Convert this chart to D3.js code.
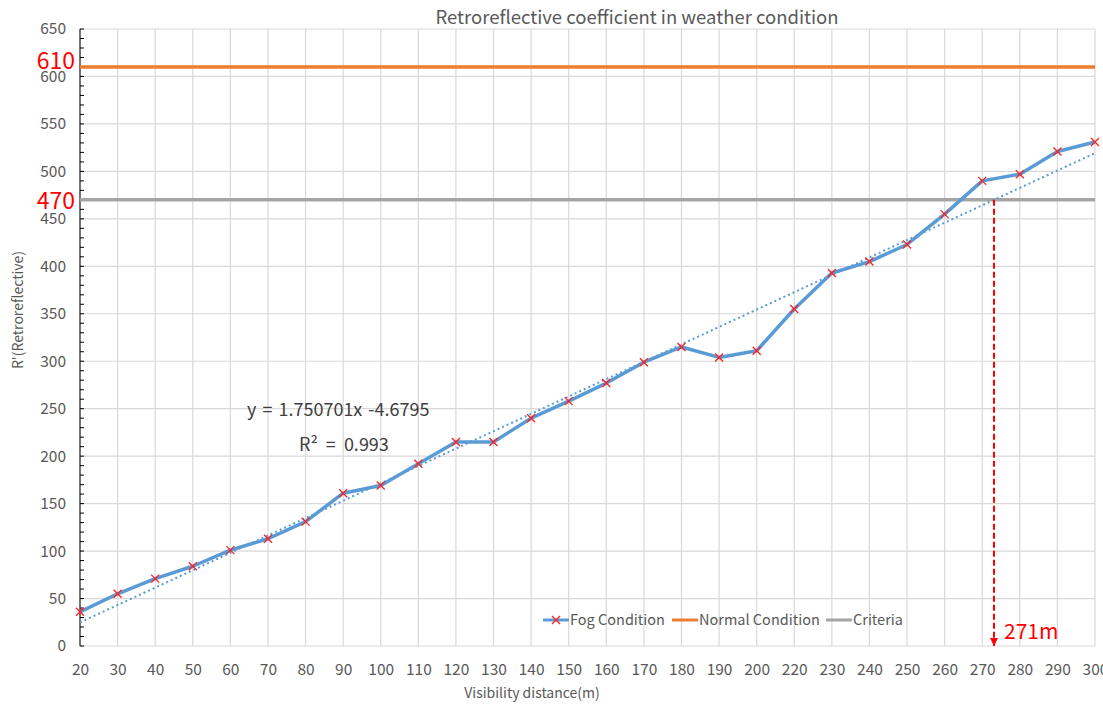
<!DOCTYPE html>
<html><head><meta charset="utf-8">
<script src="https://cdn.jsdelivr.net/npm/d3@7"></script>
<style>body{margin:0;background:#fff}svg{display:block}text{font-family:"Noto Sans CJK KR","Noto Sans",sans-serif}</style>
</head><body><svg id="c" width="1103" height="707"></svg>
<script>
const categories = [20,30,40,50,60,70,80,90,100,110,120,130,140,150,160,170,180,190,200,220,230,240,250,260,270,280,290,300];
const fogValues = [36,55,71,84,101,113,131,161,169,192,215,215,240,258,277,299,315,304,311,355,393,405,423,455,490,497,521,531];
const normalValue = 610;
const criteriaValue = 470;
const yTicks = [0,50,100,150,200,250,300,350,400,450,500,550,600,650];
const seriesNames = ["Fog Condition","Normal Condition","Criteria"];
const equationText = "y = 1.750701x -4.6795";
const r2Text = "R² = 0.993";
const crossLabel = "271m";

const svg = d3.select("#c");
const m = {l:80, r:1095, t:29, b:646};
const x = d3.scalePoint().domain(categories).range([m.l, m.r]);
const y = d3.scaleLinear().domain([0,650]).range([m.b, m.t]);
const gray = "#595959";

// gridlines
svg.append("g").selectAll("line").data(yTicks).join("line")
  .attr("x1", m.l).attr("x2", m.r).attr("y1", d=>y(d)).attr("y2", d=>y(d))
  .attr("stroke", "#d9d9d9").attr("stroke-width", 1.2);
svg.append("g").selectAll("line").data(categories).join("line")
  .attr("x1", d=>x(d)).attr("x2", d=>x(d)).attr("y1", m.t).attr("y2", m.b)
  .attr("stroke", "#d9d9d9").attr("stroke-width", 1.2);

// y axis
const yAxis = d3.axisLeft(y).tickValues(yTicks).tickSize(0).tickPadding(14);
const ya = svg.append("g").attr("transform", `translate(${m.l},0)`).call(yAxis);
ya.select(".domain").remove();
ya.selectAll("text").attr("fill", gray).attr("font-size", 15.5);
svg.append("line").attr("x1", m.l).attr("x2", m.l).attr("y1", m.t).attr("y2", m.b).attr("stroke", "#000").attr("stroke-width", 1);
svg.append("g").selectAll("line").data(d3.range(0, 651, 10)).join("line")
  .attr("x1", m.l).attr("x2", m.l + 4).attr("y1", d=>y(d)).attr("y2", d=>y(d))
  .attr("stroke", "#000").attr("stroke-width", 1);

// x axis
const xAxis = d3.axisBottom(x).tickSize(0).tickPadding(18);
const xa = svg.append("g").attr("transform", `translate(0,${m.b})`).call(xAxis);
xa.select(".domain").remove();
xa.selectAll("text").attr("fill", gray).attr("font-size", 15.5);

// axis titles
svg.append("text").attr("x", 532).attr("y", 698).attr("text-anchor","middle").attr("fill", gray).attr("font-size", 14).text("Visibility distance(m)");
svg.append("text").attr("transform", "translate(23,310) rotate(-90)").attr("text-anchor","middle").attr("fill", gray).attr("font-size", 14).text("R'(Retroreflective)");
svg.append("text").attr("x", 637).attr("y", 24).attr("text-anchor","middle").attr("fill", gray).attr("font-size", 18.5).text("Retroreflective coefficient in weather condition");

// reference lines
svg.append("line").attr("x1", m.l).attr("x2", m.r).attr("y1", y(normalValue)).attr("y2", y(normalValue)).attr("stroke", "#ED7D31").attr("stroke-width", 3.5);
svg.append("line").attr("x1", m.l).attr("x2", m.r).attr("y1", y(criteriaValue)).attr("y2", y(criteriaValue)).attr("stroke", "#A5A5A5").attr("stroke-width", 3.5);
svg.append("text").attr("x", 75).attr("y", y(normalValue)+2).attr("text-anchor","end").attr("fill", "#ff0000").attr("font-size", 23).text(normalValue);
svg.append("text").attr("x", 75).attr("y", y(criteriaValue)+9).attr("text-anchor","end").attr("fill", "#ff0000").attr("font-size", 23).text(criteriaValue);

// trendline (least squares on category index)
const n = fogValues.length;
const idx = d3.range(n);
const mx = d3.mean(idx), my = d3.mean(fogValues);
const b = d3.sum(idx, i => (i-mx)*(fogValues[i]-my)) / d3.sum(idx, i => (i-mx)**2);
const a = my - b*mx;
const step = x.step();
svg.append("line")
  .attr("x1", x(categories[0])).attr("y1", y(a))
  .attr("x2", x(categories[n-1])).attr("y2", y(a + b*(n-1)))
  .attr("stroke", "#5B9BD5").attr("stroke-width", 2).attr("stroke-dasharray", "2,3");

// fog line
svg.append("path").datum(fogValues)
  .attr("d", d3.line().x((d,i)=>x(categories[i])).y(d=>y(d)))
  .attr("fill","none").attr("stroke","#5B9BD5").attr("stroke-width",3.5).attr("stroke-linejoin","round");
const mk = 4;
svg.append("g").selectAll("path").data(fogValues).join("path")
  .attr("d", (d,i)=>{const cx=x(categories[i]), cy=y(d); return `M${cx-mk},${cy-mk}L${cx+mk},${cy+mk}M${cx-mk},${cy+mk}L${cx+mk},${cy-mk}`;})
  .attr("stroke","#ff2020").attr("stroke-width",1.3).attr("fill","none");

// crossing marker
const crossIdx = (criteriaValue - a) / b;
const cxPix = m.l + crossIdx * step;
svg.append("defs").append("marker").attr("id","arr").attr("viewBox","0 0 10 10").attr("refX",10).attr("refY",5)
  .attr("markerWidth",4).attr("markerHeight",4).attr("orient","auto")
  .append("path").attr("d","M0,0L10,5L0,10z").attr("fill","#ff0000");
svg.append("line").attr("x1", cxPix).attr("x2", cxPix).attr("y1", y(criteriaValue)).attr("y2", m.b)
  .attr("stroke","#ff0000").attr("stroke-width",2).attr("stroke-dasharray","6,3").attr("marker-end","url(#arr)");
svg.append("text").attr("x", cxPix + 10).attr("y", 639).attr("fill","#ff0000").attr("font-size", 21).text(crossLabel);

// equation
svg.append("text").attr("x", 247).attr("y", 416).attr("fill","#404040").attr("font-size", 18).attr("word-spacing", 2).text(equationText);
svg.append("text").attr("x", 299).attr("y", 451).attr("fill","#404040").attr("font-size", 18).attr("word-spacing", 4).text(r2Text);

// legend
const leg = svg.append("g");
const legItems = [
  {name: seriesNames[0], color:"#5B9BD5", x:543, marker:true},
  {name: seriesNames[1], color:"#ED7D31", x:672, marker:false},
  {name: seriesNames[2], color:"#A5A5A5", x:826, marker:false}
];
legItems.forEach(it=>{
  leg.append("line").attr("x1", it.x).attr("x2", it.x+26).attr("y1", 620).attr("y2", 620).attr("stroke", it.color).attr("stroke-width", 3);
  if (it.marker) {
    const cx = it.x+13, cy = 620;
    leg.append("path").attr("d", `M${cx-mk},${cy-mk}L${cx+mk},${cy+mk}M${cx-mk},${cy+mk}L${cx+mk},${cy-mk}`).attr("stroke","#ff2020").attr("stroke-width",1.3);
  }
  leg.append("text").attr("x", it.x+27).attr("y", 625).attr("fill", gray).attr("font-size", 14.5).text(it.name);
});
</script></body></html>
